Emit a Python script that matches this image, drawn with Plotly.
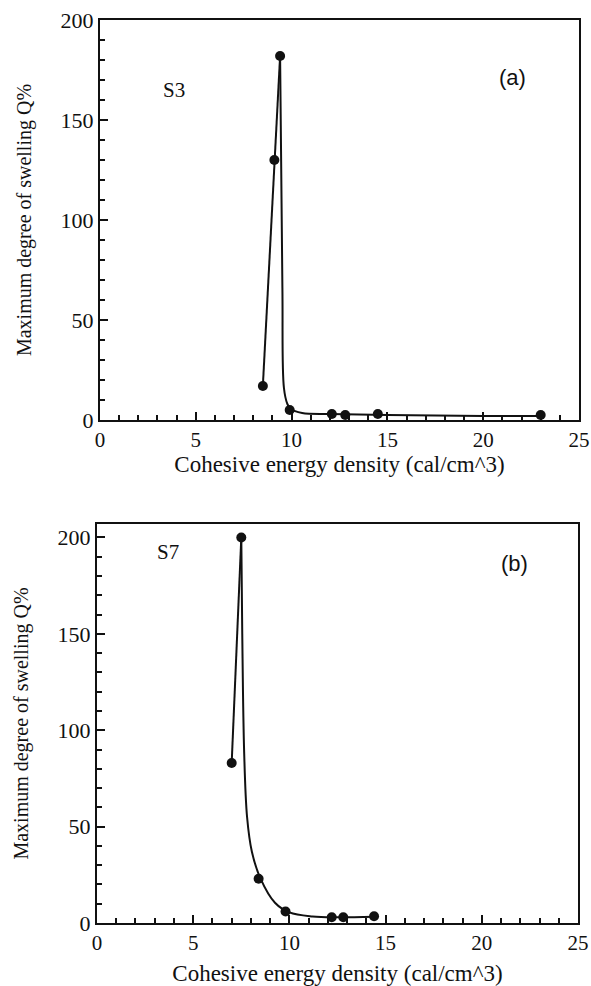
import plotly.graph_objects as go

# ---- Panel (a): S3 ----
a_x = [8.5, 9.1, 9.4, 9.9, 12.1, 12.8, 14.5, 23.0]
a_y = [17, 130, 182, 5, 3, 2.5, 3, 2.5]
# rising part drawn as straight segments through the first points
a_rise_x = [8.5, 9.1, 9.4]
a_rise_y = [17, 130, 182]
# fitted decay curve
a_fit_x = [9.4, 9.52, 9.6, 9.78, 9.95, 10.55, 12.0, 15.0, 20.0, 23.0]
a_fit_y = [182, 66, 16, 8, 5.5, 3.5, 3.0, 2.5, 2.0, 2.0]

# ---- Panel (b): S7 ----
b_x = [7.0, 7.5, 8.4, 9.8, 12.2, 12.8, 14.4]
b_y = [83, 200, 23, 6, 3, 3, 3.5]
b_rise_x = [7.0, 7.5]
b_rise_y = [83, 200]
b_fit_x = [7.5, 7.55, 7.65, 7.8, 8.05, 8.5, 9.25, 10.0, 11.2, 12.5, 14.4]
b_fit_y = [200, 150, 88, 55, 37, 23, 10.5, 5.5, 3.4, 3.0, 3.3]

x_ticks = [0, 5, 10, 15, 20, 25]
y_ticks = [0, 50, 100, 150, 200]

serif = "Liberation Serif"
black = "#111111"

fig = go.Figure()

def add_panel(xa, ya, px, py, rx, ry, fx, fy):
    fig.add_trace(go.Scatter(x=rx, y=ry, mode="lines", xaxis=xa, yaxis=ya,
                             line=dict(color=black, width=2), showlegend=False))
    fig.add_trace(go.Scatter(x=fx, y=fy, mode="lines", xaxis=xa, yaxis=ya,
                             line=dict(color=black, width=2, shape="spline", smoothing=1.0),
                             showlegend=False))
    fig.add_trace(go.Scatter(x=px, y=py, mode="markers", xaxis=xa, yaxis=ya,
                             marker=dict(color=black, size=10), showlegend=False))

add_panel("x", "y", a_x, a_y, a_rise_x, a_rise_y, a_fit_x, a_fit_y)
add_panel("x2", "y2", b_x, b_y, b_rise_x, b_rise_y, b_fit_x, b_fit_y)

W, H = 591, 986

def xaxis_cfg(left, right, standoff):
    return dict(domain=[left / W, right / W], range=[0, 25], tickvals=x_ticks,
                automargin=False, ticklabeloverflow="allow",
                ticks="inside", ticklen=8, tickwidth=2, tickcolor=black,
                minor=dict(ticks="inside", dtick=1, ticklen=5, tickwidth=2, tickcolor=black),
                showline=True, linewidth=2, linecolor=black, mirror=True,
                showgrid=False, zeroline=False,
                tickfont=dict(family=serif, size=21, color=black),
                title=dict(text="Cohesive energy density (cal/cm^3)",
                           font=dict(family=serif, size=23, color=black), standoff=standoff))

def yaxis_cfg(top, bottom, ymax):
    return dict(domain=[1 - bottom / H, 1 - top / H], range=[0, ymax], tickvals=y_ticks,
                automargin=False, ticklabeloverflow="allow",
                ticks="inside", ticklen=8, tickwidth=2, tickcolor=black,
                minor=dict(ticks="inside", dtick=10, ticklen=5, tickwidth=2, tickcolor=black),
                showline=True, linewidth=2, linecolor=black, mirror=True,
                showgrid=False, zeroline=False,
                tickfont=dict(family=serif, size=22, color=black),
                title=dict(text="Maximum degree of swelling Q%",
                           font=dict(family=serif, size=20, color=black), standoff=24))

fig.update_layout(
    width=W, height=H,
    margin=dict(l=0, r=0, t=0, b=0),
    paper_bgcolor="white", plot_bgcolor="white",
    xaxis=dict(xaxis_cfg(100, 579, 0), anchor="y"),
    yaxis=dict(yaxis_cfg(20, 420, 200), anchor="x"),
    xaxis2=dict(xaxis_cfg(97, 578, 20), anchor="y2"),
    yaxis2=dict(yaxis_cfg(524, 923, 207), anchor="x2"),
    annotations=[
        dict(text="S3", x=161 / W, y=1 - 76 / H, xref="paper", yref="paper",
             showarrow=False, font=dict(family=serif, size=21, color=black)),
        dict(text="(a)", x=528 / W, y=1 - 63 / H, xref="paper", yref="paper",
             showarrow=False, font=dict(family="Liberation Sans", size=22, color=black)),
        dict(text="S7", x=155 / W, y=1 - 552 / H, xref="paper", yref="paper",
             showarrow=False, font=dict(family=serif, size=21, color=black)),
        dict(text="(b)", x=530 / W, y=1 - 563 / H, xref="paper", yref="paper",
             showarrow=False, font=dict(family="Liberation Sans", size=22, color=black)),
    ],
)

fig.write_html("out.html")
